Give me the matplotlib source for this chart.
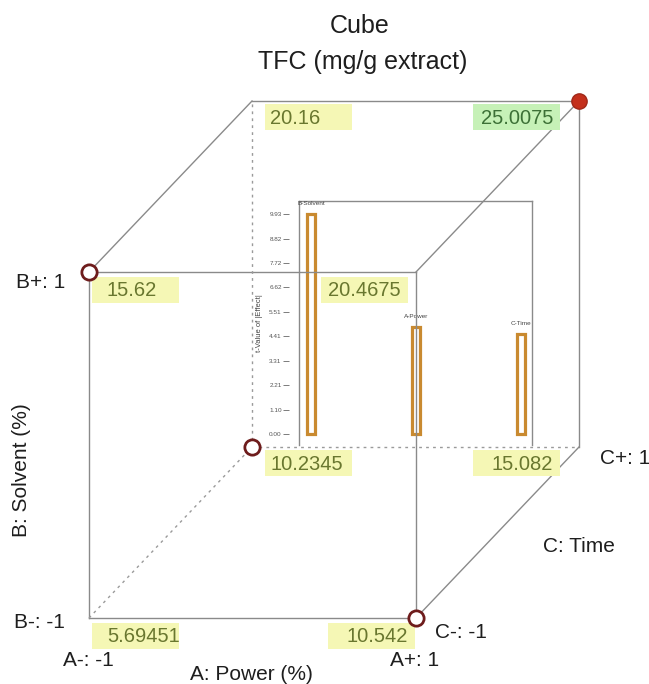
"""Cube plot of TFC (mg/g extract) with inset t-value chart."""

import itertools

import matplotlib.pyplot as plt
from matplotlib.patches import Rectangle

plt.rcParams["font.family"] = ["Liberation Sans", "DejaVu Sans"]

# corner responses, keyed by coded levels (A, B, C)
corner_levels = [(-1, -1, -1), (1, -1, -1), (-1, 1, -1), (1, 1, -1),
                 (-1, -1, 1), (1, -1, 1), (-1, 1, 1), (1, 1, 1)]
corner_values = ["5.69451", "10.542", "15.62", "20.4675",
                 "10.2345", "15.082", "20.16", "25.0075"]
# design points: "open" ring, "max" filled dot, None = no marker
corner_marks = [None, "open", "open", None, "open", None, None, "max"]

# inset effect chart
effect_names = ["B-Solvent", "A-Power", "C-Time"]
effect_tvalues = [9.93, 4.83, 4.51]
tick_values = [0.00, 1.10, 2.21, 3.31, 4.41, 5.51, 6.62, 7.72, 8.82, 9.93]

# ---- layout (pixels) ----
W, H = 649, 684
X0, Y0 = 89, 618      # front bottom-left corner
FW, FH = 327, 346     # front face size
DX, DY = 163, 171     # depth offset for C
HIDDEN = (-1, -1, 1)

LINE = "#8a8a8a"
TXT = "#1e1e1e"


def proj(a: int, b: int, c: int) -> tuple[float, float]:
    """Project coded levels to pixel position."""
    x = X0 + (a + 1) / 2 * FW + (c + 1) / 2 * DX
    y = Y0 - (b + 1) / 2 * FH - (c + 1) / 2 * DY
    return x, y


fig = plt.figure(figsize=(W / 100, H / 100), dpi=100)
ax = fig.add_axes([0, 0, 1, 1], zorder=2)
ax.set_xlim(0, W)
ax.set_ylim(H, 0)
ax.axis("off")
ax.patch.set_visible(False)

# inset t-value chart, drawn below cube lines
ax2 = fig.add_axes([299 / W, 1 - 445 / H, 233 / W, 244 / H], zorder=1)
xs = list(range(len(effect_names)))
ax2.bar(xs, effect_tvalues, width=0.075, facecolor="white",
        edgecolor="#c98a30", linewidth=2.3)
for i, (name, v) in enumerate(zip(effect_names, effect_tvalues)):
    ax2.text(i, v + 0.35, name, ha="center", va="bottom", fontsize=4.6, color="#444444")
ax2.set_xlim(-0.115, 2.105)
ax2.set_ylim(-0.5, 10.52)
ax2.set_xticks([])
ax2.set_yticks(tick_values)
ax2.set_yticklabels([f"{t:.2f}" for t in tick_values])
ax2.tick_params(axis="y", labelsize=4.6, length=4, width=0.6, color="#666666",
                labelcolor="#555555", pad=1.5)
ax2.spines["left"].set_position(("outward", 7))
for s in ax2.spines.values():
    s.set_visible(False)
ax2.set_ylabel("t-Value of |Effect|", fontsize=5.5, color="#444444", labelpad=4)
for (x1, y1), (x2, y2) in [((0, 0), (0, 1)), ((0, 1), (1, 1)), ((1, 1), (1, 0))]:
    ax2.plot([x1, x2], [y1, y2], transform=ax2.transAxes, color=LINE, lw=1,
             clip_on=False)

# cube edges
for p, q in itertools.combinations(corner_levels, 2):
    if sum(u != v for u, v in zip(p, q)) != 1:
        continue
    (x1, y1), (x2, y2) = proj(*p), proj(*q)
    if HIDDEN in (p, q):
        ax.plot([x1, x2], [y1, y2], color="#9a9a9a", lw=1, dashes=(2, 3))
    else:
        ax.plot([x1, x2], [y1, y2], color=LINE, lw=1)

# value boxes
box_w, box_h = 87, 26
for lev, val, mark in zip(corner_levels, corner_values, corner_marks):
    a, b, c = lev
    x, y = proj(*lev)
    if a < 0:
        bx = x + (3 if c < 0 else 13)
        pad = 15 if c < 0 else 5
        tx, ha = bx + pad, "left"
    else:
        bx = x - box_w - (1 if b < 0 and c < 0 else (8 if c < 0 else 19))
        tx, ha = bx + box_w - 7, "right"
    by = y + (5 if c < 0 else 3)
    is_max = mark == "max"
    ax.add_patch(Rectangle((bx, by), box_w, box_h, facecolor="#c6f1b7" if is_max else "#f5f7b5",
                           edgecolor="none", zorder=3))
    ax.text(tx, by + box_h / 2 + 1, val, ha=ha, va="center", fontsize=14.5,
            color="#3c7036" if is_max else "#69772f", zorder=4)
    if mark == "open":
        ax.plot(x, y, "o", ms=11, mfc="white", mec="#6e1c1c", mew=2, zorder=5)
    elif is_max:
        ax.plot(x, y, "o", ms=11, mfc="#c4301c", mec="#a02818", mew=1, zorder=5)

# axis labels
fs = 15
ax.text(360, 26, "Cube", ha="center", va="center", fontsize=18, color=TXT)
ax.text(363, 62, "TFC (mg/g extract)", ha="center", va="center", fontsize=18, color=TXT)
ax.text(65, 283, "B+: 1", ha="right", va="center", fontsize=fs, color=TXT)
ax.text(65, 622, "B-: -1", ha="right", va="center", fontsize=fs, color=TXT)
ax.text(22, 470, "B: Solvent (%)", ha="center", va="center", rotation=90, fontsize=fs, color=TXT)
ax.text(88, 661, "A-: -1", ha="center", va="center", fontsize=fs, color=TXT)
ax.text(251, 675, "A: Power (%)", ha="center", va="center", fontsize=fs, color=TXT)
ax.text(415, 660, "A+: 1", ha="center", va="center", fontsize=fs, color=TXT)
ax.text(435, 632, "C-: -1", ha="left", va="center", fontsize=fs, color=TXT)
ax.text(600, 459, "C+: 1", ha="left", va="center", fontsize=fs, color=TXT)
ax.text(579, 546, "C: Time", ha="center", va="center", fontsize=fs, color=TXT)

fig.savefig("out.png", dpi=100)
